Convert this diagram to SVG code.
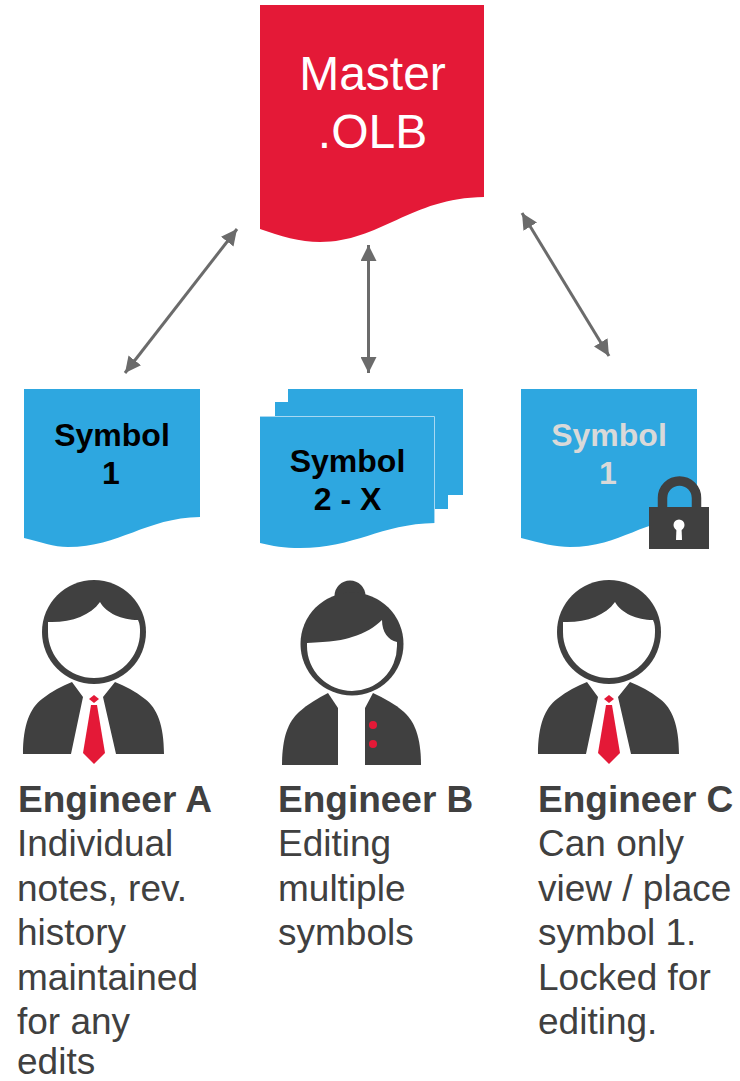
<svg xmlns="http://www.w3.org/2000/svg" width="740" height="1081" viewBox="0 0 740 1081">
<style>
text{font-family:"Liberation Sans",Arial,sans-serif}
.m{font-size:48px;fill:#fff;text-anchor:middle}
.s{font-size:32px;font-weight:bold;text-anchor:middle;fill:#000}
.g{fill:#d9d9d9}
.t{font-size:37px;fill:#404040}
.b{font-weight:bold}
.doc{fill:#2ea7e0}
.dark{fill:#404040}
.red{fill:#e41937}
.conn{stroke:#6b6b6b;stroke-width:3;fill:none;marker-start:url(#ah);marker-end:url(#ah)}
</style>
<defs>
<marker id="ah" viewBox="0 0 16 16" refX="16" refY="8" markerWidth="16" markerHeight="16" markerUnits="userSpaceOnUse" orient="auto-start-reverse"><path d="M0 0L16 8L0 16Z" fill="#6b6b6b"/></marker>
<g id="man">
<path class="dark" d="M72 682L83 697L71 754H23C23 725 30 708 42 699C52 691 62 686 72 682Z"/>
<path class="dark" d="M115 682L103 697L116 754H164C164 725 157 708 145 699C135 691 125 686 115 682Z"/>
<circle class="dark" cx="94" cy="632" r="52"/>
<path fill="#fff" d="M48 622C70 623 90 616 100 602C106 613 122 620 138 620C140 624 140 628 140 632A46 46 0 0 1 48 632C48 628 48 625 48 622Z"/>
<path class="red" d="M94 695L99 699L94 703L89 699Z"/>
<path class="red" d="M91 705H97L105 753L94 764L83 753Z"/>
</g>
</defs>
<rect width="740" height="1081" fill="#fff"/>
<g id="connectors">
<line class="conn" x1="125" y1="373" x2="237" y2="229"/>
<line class="conn" x1="368.500" y1="373" x2="368.500" y2="245"/>
<line class="conn" x1="609" y1="356" x2="522" y2="213"/>
</g>
<g id="master">
<path class="red" d="M260 5H484V197C410 198 380 242 320 242C300 242 280 236 260 229Z"/>
<text class="m" x="372.500" y="90">Master</text>
<text class="m" x="372.500" y="148">.OLB</text>
</g>
<g id="symbol-1">
<path class="doc" d="M24 389H200V517C145 518 120 547 68 547C54 547 40 542 24 538Z"/>
<text class="s" x="112" y="446">Symbol</text>
<text class="s" x="111" y="484">1</text>
</g>
<g id="symbol-2-x">
<rect class="doc" x="288" y="389" width="175" height="106"/>
<rect class="doc" x="275" y="402" width="173" height="107"/>
<path class="doc" d="M260 416H435V523C380 524 355 548 300 548C285 548 272 546 260 543Z"/>
<path fill="none" stroke="#a8d8f2" stroke-width="1" d="M260 416.500H434.500V523"/>
<text class="s" x="347.500" y="472">Symbol</text>
<text class="s" x="347.500" y="510">2 - X</text>
</g>
<g id="symbol-1-locked">
<path class="doc" d="M521 389H697V517C642 518 622 547 570 547C556 547 540 543 521 538Z"/>
<text class="s g" x="609" y="446" style="fill:#d9d9d9">Symbol</text>
<text class="s g" x="608" y="484" style="fill:#d9d9d9">1</text>
<path fill="none" stroke="#404040" stroke-width="9.500" d="M662.500 507V498A17 17 0 0 1 696.500 498V507"/>
<rect class="dark" x="649" y="507" width="60" height="42"/>
<circle cx="679" cy="525" r="5.500" fill="#fff"/>
<path fill="#fff" d="M676.500 527H681.500L682 540H676Z"/>
</g>
<g id="engineer-a">
<use href="#man"/>
<text class="t b" x="18" y="812">Engineer A</text>
<text class="t" x="17" y="856">Individual</text>
<text class="t" x="17" y="901">notes, rev.</text>
<text class="t" x="17" y="945">history</text>
<text class="t" x="17" y="990">maintained</text>
<text class="t" x="17" y="1034">for any</text>
<text class="t" x="17" y="1074">edits</text>
</g>
<g id="engineer-b">
<circle class="dark" cx="350" cy="596" r="15.500"/>
<path class="dark" d="M328 693L338 708V765H282C282 738 288 722 299 712C308 704 318 698 328 693Z"/>
<path class="dark" d="M373 693L365 708V765H421C421 738 415 722 404 712C395 704 384 698 373 693Z"/>
<circle class="dark" cx="352" cy="644" r="51.500"/>
<path fill="#fff" d="M307 643C330 642 345 640 352 637C365 633 375 627 382 620C382 632 388 640 397 642C397 643 397 644 397 646A45 45 0 0 1 307 646Z"/>
<circle class="red" cx="373" cy="725" r="4"/>
<circle class="red" cx="373" cy="744" r="4"/>
<text class="t b" x="278" y="812">Engineer B</text>
<text class="t" x="278" y="856">Editing</text>
<text class="t" x="278" y="901">multiple</text>
<text class="t" x="278" y="945">symbols</text>
</g>
<g id="engineer-c">
<use href="#man" x="515"/>
<text class="t b" x="538" y="812">Engineer C</text>
<text class="t" x="538" y="856">Can only</text>
<text class="t" x="538" y="901">view / place</text>
<text class="t" x="538" y="945">symbol 1.</text>
<text class="t" x="538" y="990">Locked for</text>
<text class="t" x="538" y="1034">editing.</text>
</g>
</svg>
